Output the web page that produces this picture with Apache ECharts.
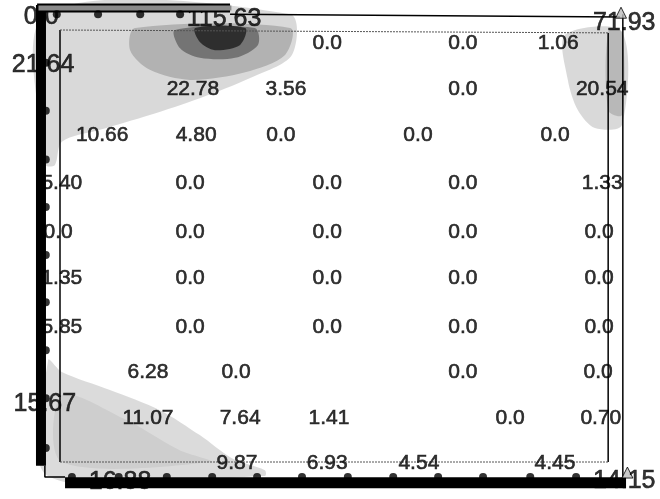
<!DOCTYPE html>
<html>
<head>
<meta charset="utf-8">
<script src="https://cdn.jsdelivr.net/npm/echarts@6/dist/echarts.min.js"></script>
<style>html,body{margin:0;padding:0;background:#fff}#chart{width:660px;height:499px}</style>
</head>
<body>
<div id="chart"></div>
<script>
// ---- data (plate model units: u = column, v = row; v grows downward) ----
const rowV = [0.27, 1.23, 2.19, 3.19, 4.21, 5.17, 6.19, 7.13, 8.08, 9.02];
const rowU = [
  [5.83, 8.79, 10.87],
  [2.90, 4.93, 8.79, 11.83],
  [0.92, 2.97, 4.82, 7.81, 10.80],
  [0.04, 2.84, 5.83, 8.79, 11.83],
  [-0.04, 2.84, 5.83, 8.79, 11.76],
  [0.04, 2.84, 5.83, 8.79, 11.76],
  [0.04, 2.84, 5.83, 8.79, 11.76],
  [1.92, 3.84, 8.79, 11.74],
  [1.92, 3.93, 5.87, 9.82, 11.80],
  [3.86, 5.83, 7.83, 10.80]
];
const rowValues = [
  [0.0, 0.0, 1.06],
  [22.78, 3.56, 0.0, 20.54],
  [10.66, 4.80, 0.0, 0.0, 0.0],
  [5.40, 0.0, 0.0, 0.0, 1.33],
  [0.0, 0.0, 0.0, 0.0, 0.0],
  [1.35, 0.0, 0.0, 0.0, 0.0],
  [5.85, 0.0, 0.0, 0.0, 0.0],
  [6.28, 0.0, 0.0, 0.0],
  [11.07, 7.64, 1.41, 0.0, 0.70],
  [9.87, 6.93, 4.54, 4.45]
];
// boundary (edge) values
const edgeU = [-0.41, 3.58, 12.31, -0.37, -0.33];
const edgeV = [-0.27, -0.23, -0.15, 0.73, 7.79];
const edgeValues = [0.0, 115.63, 71.93, 21.64, 15.67];
const baseU = [1.31, 12.31];
const baseV = [9.42, 9.40];
const baseValues = [16.88, 14.15];

// frame geometry
const leftBar = [[-0.415, -0.52], [-0.415, 9.08]];
const leftDotRows = [0.68, 1.68, 2.70, 3.69, 4.69, 5.67, 6.67, 7.67, 8.71];
const bottomBar = [[0.11, 9.43], [12.35, 9.43]];
const bottomDotCols = [0.26, 1.28, 2.33, 3.32, 4.30, 5.28, 6.28, 7.27, 8.25, 9.23, 10.26, 11.26];
const cornerL = [[-0.33, 9.08], [-0.33, 9.31], [0.11, 9.31]];
const topBar = [[-0.50, -0.46], [3.71, -0.46]];
const topDotCols = [-0.07, 0.83, 1.75, 2.62];
const topLine = [[3.71, -0.33], [12.22, -0.27]];
const rightLine = [[12.28, -0.33], [12.28, 9.33]];
const plateLeft = [[0, 0], [0, 9]];
const plateRight = [[11.96, 0.06], [11.96, 9]];
const plateTop = [[0, 0], [11.96, 0.06]];
const plateBottom = [[0, 9], [11.96, 9]];

// shaded (contour) regions
const shadeTopLight = [[-0.31,-0.33],[5.02,-0.33],[5.06,0.52],[4.15,1.0],[3.05,1.42],[1.96,1.77],[0.87,2.08],[0.04,2.33],[-0.11,2.81],[-0.31,2.81]];
const shadeTopMid = [[1.64,-0.04],[5.02,-0.04],[4.91,0.52],[4.04,0.88],[2.84,1.04],[1.96,0.83],[1.53,0.42]];
const shadeTopDark = [[2.51,0.0],[4.25,-0.04],[4.32,0.31],[3.82,0.58],[3.05,0.58],[2.62,0.38]];
const shadeTopCore = [[2.95,-0.04],[4.04,-0.04],[3.93,0.31],[3.38,0.42],[3.05,0.25]];
const shadeRight = [[11.02,0.10],[12.26,0.04],[12.26,1.98],[11.67,2.04],[11.30,1.67],[11.08,1.04]];
const shadeRightStrip = [[11.96,0.04],[12.26,0.04],[12.26,1.77],[11.96,1.67]];
const shadeBottom = [[-0.26,6.875],[0.04,7.125],[1.09,7.5],[2.18,7.92],[3.05,8.44],[3.75,8.92],[4.47,9.17],[4.47,9.29],[-0.26,9.29]];
const shadeBottomMid = [[0.04,7.6],[1.4,8.1],[2.6,8.75],[3.3,9.0],[0.04,9.0]];

// ---- build ----
const FONT = "'Liberation Sans', Arial, Helvetica, sans-serif";
const fmt = v => (v === 0 ? '0.0' : v.toFixed(2));

const nodeData = [];
rowV.forEach((v, r) => rowU[r].forEach((u, i) => nodeData.push([u, v, rowValues[r][i]])));
const edgeData = edgeU.map((u, i) => [u, edgeV[i], edgeValues[i]]);
const baseData = baseU.map((u, i) => [u, baseV[i], baseValues[i]]);

function region(pts, alpha) {
  return {
    type: 'custom', z: 1, silent: true, clip: false,
    data: [[pts[0][0], pts[0][1]]],
    renderItem: (params, api) => ({
      type: 'polygon',
      shape: { points: pts.map(p => api.coord(p)), smooth: 0.3 },
      style: { fill: 'rgba(0,0,0,' + alpha + ')' }
    })
  };
}
function poly(pts, width, color, type, z) {
  return {
    type: 'line', data: pts, showSymbol: false, symbol: 'none', clip: false, silent: true,
    z: z, lineStyle: { width: width, color: color, type: type || 'solid', cap: 'butt' }
  };
}
function dots(data, size, z) {
  return { type: 'scatter', data: data, symbol: 'circle', symbolSize: size, z: z, silent: true, clip: false,
    itemStyle: { color: '#000' } };
}
function labels(data, size, z) {
  return {
    type: 'scatter', data: data, symbolSize: 1, z: z, silent: true, clip: false,
    itemStyle: { color: 'rgba(0,0,0,0)' },
    label: { show: true, position: 'inside', formatter: p => fmt(p.value[2]),
      color: '#000', fontSize: size, fontFamily: FONT,
      textBorderColor: '#000', textBorderWidth: 0.6 }
  };
}

// plate spans u 0..12 over 550 px and v 0..9 over 432 px; axes extended to the page edges
const U_PX = 550 / 12, V_PX = 432 / 9;
const option = {
  animation: false,
  backgroundColor: '#fff',
  grid: { left: 0, right: 0, top: 0, bottom: 0, show: false },
  xAxis: { type: 'value', min: -60 / U_PX, max: 12 + 50 / U_PX, show: false },
  yAxis: { type: 'value', min: -30 / V_PX, max: 9 + 37 / V_PX, inverse: true, show: false },
  series: [
    region(shadeTopLight, 0.15),
    region(shadeTopMid, 0.18),
    region(shadeTopDark, 0.35),
    region(shadeTopCore, 0.6),
    region(shadeRight, 0.15),
    region(shadeRightStrip, 0.15),
    region(shadeBottom, 0.14),
    region(shadeBottomMid, 0.06),
    poly(plateLeft, 1.5, '#000', 'solid', 2),
    poly(plateRight, 1.5, '#000', 'solid', 2),
    poly(plateTop, 1, '#555', [2, 1], 2),
    poly(plateBottom, 1, '#555', [2, 1], 2),
    labels(nodeData, 21, 3),
    labels(edgeData, 25, 3),
    poly(topLine, 1.5, '#000', 'solid', 5),
    poly(rightLine, 1.5, '#000', 'solid', 5),
    poly(cornerL, 1.5, '#000', 'solid', 5),
    poly(topBar, 9, '#000', 'solid', 5),
    poly(topBar.map(p => [p[0] + 0.03, p[1]]), 5, '#8a8a8a', 'solid', 5.1),
    poly(leftBar, 10, '#000', 'solid', 5),
    poly(bottomBar, 11, '#000', 'solid', 5),
    dots(leftDotRows.map(v => [-0.31, v]), 8, 6),
    dots(bottomDotCols.map(u => [u, 9.31]), 8, 6),
    dots(topDotCols.map(u => [u, -0.33]), 8, 6),
    {
      type: 'scatter', z: 6, silent: true, clip: false,
      data: [[12.24, -0.36], [12.38, 9.22]],
      symbol: 'triangle', symbolSize: 11,
      itemStyle: { color: '#bbb', borderColor: '#000', borderWidth: 1 }
    },
    labels(baseData, 25, 7)
  ]
};
const chart = echarts.init(document.getElementById('chart'), null, { renderer: 'canvas' });
chart.setOption(option);
</script>
</body>
</html>
